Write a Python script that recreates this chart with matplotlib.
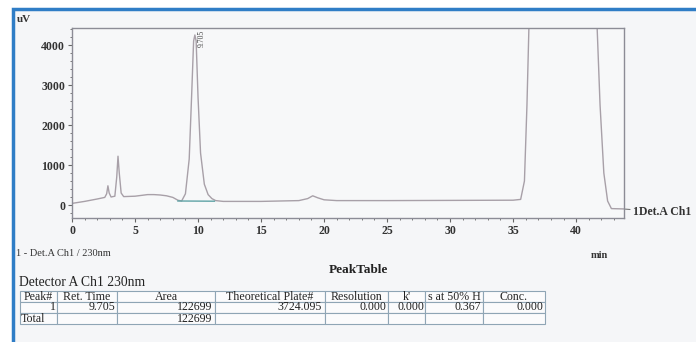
import matplotlib.pyplot as plt
from matplotlib.patches import Rectangle
from matplotlib.ticker import MultipleLocator

plt.rcParams['font.family'] = ['Liberation Serif', 'DejaVu Serif']

# chromatogram trace (min, uV); 5000 = off scale
ret_time = [0.0, 1.0, 2.0, 2.6, 2.75, 2.85, 2.95, 3.1, 3.4, 3.55, 3.65, 3.75, 3.9, 4.1,
            5.0, 5.5, 6.0, 6.5, 7.0, 7.5, 8.0, 8.4, 8.7, 9.0, 9.3, 9.5, 9.65, 9.75, 9.85,
            10.0, 10.2, 10.5, 10.8, 11.1, 11.4, 12.0, 15.0, 18.0, 18.7, 19.1, 19.5, 20.0,
            21.0, 25.0, 30.0, 35.0, 35.6, 35.9, 36.1, 36.3, 41.6, 41.9, 42.2, 42.5, 42.8, 44.0]
signal = [40, 90, 150, 190, 280, 480, 300, 200, 220, 700, 1220, 800, 300, 210,
          220, 240, 260, 260, 250, 230, 190, 120, 100, 280, 1150, 2800, 4100, 4250, 4100,
          2700, 1300, 520, 260, 160, 110, 90, 90, 110, 160, 230, 180, 130,
          110, 110, 115, 120, 140, 600, 2500, 5000, 5000, 2500, 800, 100, -90, -100]

# integration baseline under the main peak
base_time = [8.4, 11.3]
base_level = [100, 95]

peak_label = '9.705'
peak_pos = 9.75

col_labels = ['Peak#', 'Ret. Time', 'Area', 'Theoretical Plate#', 'Resolution', "k'", 's at 50% H', 'Conc.']
rows = [['1', '9.705', '122699', '3724.095', '0.000', '0.000', '0.367', '0.000'],
        ['Total', '', '122699', '', '', '', '', '']]
col_px = [37, 60, 98, 110, 63, 37, 58, 62]

W, H = 696, 342

def fx(x):
    return x / W

def fy(y):
    return 1 - y / H

fig = plt.figure(figsize=(W / 100, H / 100), dpi=100, facecolor='white')
# screenshot frame: light panel with blue left/top border
fig.patches.append(Rectangle((fx(13), -0.05), 1.2, fy(9) + 0.05, transform=fig.transFigure,
                             facecolor='#f5f6f8', edgecolor='#2f7dc6', linewidth=2.5, zorder=-5))

ax = fig.add_axes([fx(72), fy(218), fx(624) - fx(72), fy(28) - fy(218)])
ax.set_facecolor('#f7f8f9')
ax.plot(ret_time, signal, color='#a8a0a8', lw=1.0)
ax.plot(base_time, base_level, color='#5fa3a6', lw=1.0)
ax.set_xlim(0, 43.8)
ax.set_ylim(-325, 4425)
ax.xaxis.set_major_locator(MultipleLocator(5))
ax.xaxis.set_minor_locator(MultipleLocator(1))
ax.yaxis.set_major_locator(MultipleLocator(1000))
ax.yaxis.set_minor_locator(MultipleLocator(200))
ax.tick_params(which='major', length=3, width=0.8, labelsize=8.5, color='#666666', pad=2)
ax.tick_params(which='minor', length=1.5, width=0.6, color='#666666')
for lab in ax.get_xticklabels() + ax.get_yticklabels():
    lab.set_fontweight('bold')
    lab.set_color('#333333')
for sp in ax.spines.values():
    sp.set_color('#8c8c96')
    sp.set_linewidth(1.0)

ax.text(peak_pos + 0.25, 4380, peak_label, rotation=90, fontsize=5.5, va='top', ha='left', color='#444444')
ax.annotate('1Det.A Ch1', xy=(43.8, -100), xytext=(44.5, -180), fontsize=8.5, fontweight='bold',
            va='center', ha='left', color='#333333', annotation_clip=False,
            arrowprops=dict(arrowstyle='-', color='#777777', lw=0.8, shrinkA=0, shrinkB=1))

fig.text(fx(17), fy(20), 'uV', fontsize=8, fontweight='bold', va='center', ha='left', color='#333333')
fig.text(fx(599), fy(255), 'min', fontsize=7.5, fontweight='bold', va='center', ha='center', color='#333333')
fig.text(fx(16), fy(254), '1 - Det.A Ch1 / 230nm', fontsize=7.5, va='center', ha='left', color='#333333')
fig.text(fx(358), fy(270), 'PeakTable', fontsize=9.5, fontweight='bold', va='center', ha='center', color='#222222')
fig.text(fx(19), fy(282), 'Detector A Ch1 230nm', fontsize=9.8, va='center', ha='left', color='#222222')

tax = fig.add_axes([fx(20), fy(324), fx(545) - fx(20), fy(291) - fy(324)])
tax.axis('off')
total = sum(col_px)
tbl = tax.table(cellText=rows, colLabels=col_labels, colWidths=[c / total for c in col_px],
                bbox=[0, 0, 1, 1], cellLoc='right')
tbl.auto_set_font_size(False)
tbl.set_fontsize(8.6)
for (r, c), cell in tbl.get_celld().items():
    cell.set_edgecolor('#8fa5b5')
    cell.set_linewidth(0.8)
    cell.set_facecolor('#fbfbfc')
    cell.PAD = 0.03
    cell.get_text().set_color('#222222')
    if r == 0:
        cell._loc = 'center'
        cell.get_text().set_ha('center')
    if r == 2 and c == 0:
        cell._loc = 'left'
        cell.get_text().set_ha('left')

fig.savefig('out.png', dpi=100)
